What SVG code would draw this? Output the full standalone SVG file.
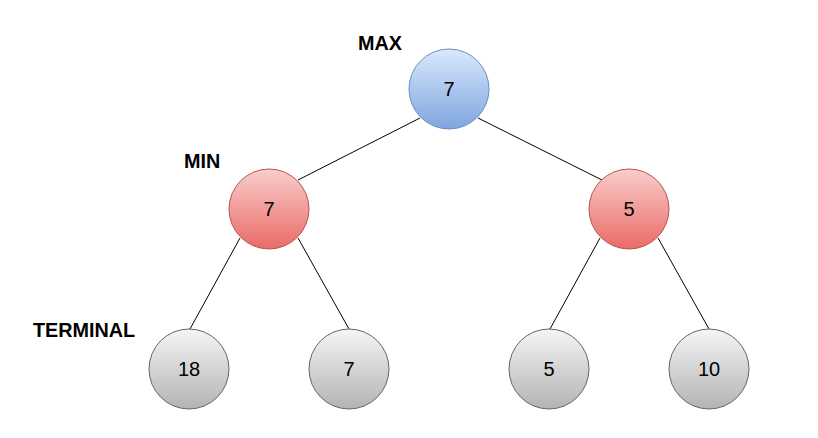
<svg xmlns="http://www.w3.org/2000/svg" width="818" height="438" viewBox="0 0 818 438">
<style>
.lbl{font-family:"Liberation Sans",Arial,sans-serif;font-weight:bold;font-size:19.8px;fill:#000}
.num{font-family:"Liberation Sans",Arial,sans-serif;font-size:20px;fill:#000;text-anchor:middle}
.edge{stroke:#000;stroke-width:1;fill:none}
.max{fill:url(#gBlue);stroke:#6c8ebf;stroke-width:1}
.min{fill:url(#gRed);stroke:#b85450;stroke-width:1}
.term{fill:url(#gGray);stroke:#666666;stroke-width:1}
</style>
<defs>
<linearGradient id="gBlue" x1="0" y1="0" x2="0" y2="1"><stop offset="0" stop-color="#dae8fc"/><stop offset="1" stop-color="#7ea6e0"/></linearGradient>
<linearGradient id="gRed" x1="0" y1="0" x2="0" y2="1"><stop offset="0" stop-color="#f8cecc"/><stop offset="1" stop-color="#ea6b66"/></linearGradient>
<linearGradient id="gGray" x1="0" y1="0" x2="0" y2="1"><stop offset="0" stop-color="#f5f5f5"/><stop offset="1" stop-color="#b3b3b3"/></linearGradient>
</defs>
<rect width="818" height="438" fill="#fff"/>
<g id="connectors">
<line class="edge" x1="420" y1="118" x2="298" y2="180"/>
<line class="edge" x1="478" y1="118" x2="602" y2="180"/>
<line class="edge" x1="240" y1="238" x2="190" y2="329"/>
<line class="edge" x1="298" y1="238" x2="349" y2="329"/>
<line class="edge" x1="600" y1="238" x2="550" y2="329"/>
<line class="edge" x1="658" y1="238" x2="709" y2="329"/>
</g>
<g id="label-max"><text class="lbl" x="358" y="50">MAX</text></g>
<g id="label-min"><text class="lbl" x="184" y="168">MIN</text></g>
<g id="label-terminal"><text class="lbl" x="33" y="337">TERMINAL</text></g>
<g id="root"><circle class="max" cx="449" cy="89" r="40"/><text class="num" x="449" y="96">7</text></g>
<g id="min-left"><circle class="min" cx="269" cy="209" r="40"/><text class="num" x="269" y="216">7</text></g>
<g id="min-right"><circle class="min" cx="629" cy="209" r="40"/><text class="num" x="629" y="216">5</text></g>
<g id="term-18"><circle class="term" cx="189" cy="369" r="40"/><text class="num" x="189" y="376">18</text></g>
<g id="term-7"><circle class="term" cx="349" cy="369" r="40"/><text class="num" x="349" y="376">7</text></g>
<g id="term-5"><circle class="term" cx="549" cy="369" r="40"/><text class="num" x="549" y="376">5</text></g>
<g id="term-10"><circle class="term" cx="709" cy="369" r="40"/><text class="num" x="709" y="376">10</text></g>
</svg>
